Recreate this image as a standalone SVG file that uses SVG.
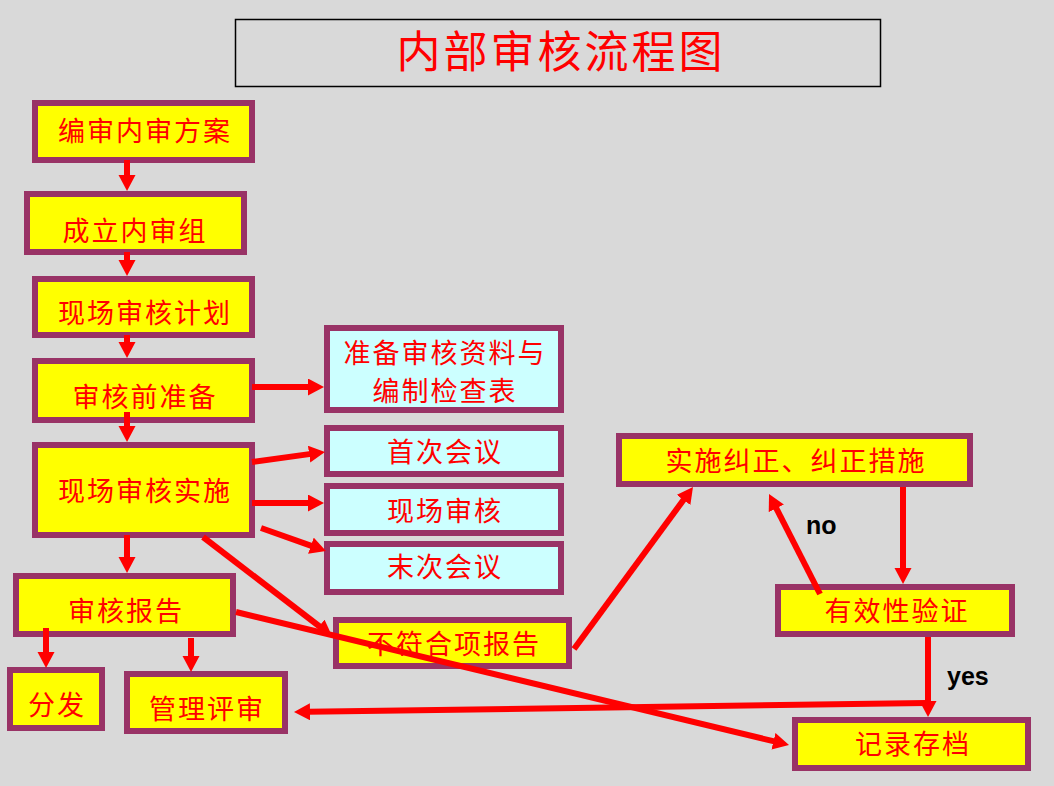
<svg xmlns="http://www.w3.org/2000/svg" width="1054" height="786" viewBox="0 0 1054 786">
<style>
.bg{fill:#d9d9d9}
.y{fill:#ffff00;stroke:#993366;stroke-width:6}
.c{fill:#ccffff;stroke:#993366;stroke-width:6}
.t{font-family:"Noto Sans CJK SC","Noto Sans CJK JP",sans-serif;font-size:27px;fill:#ff0000;text-anchor:middle;letter-spacing:2px}
.ttl{font-family:"Noto Sans CJK SC","Noto Sans CJK JP",sans-serif;font-size:44px;fill:#ff0000;text-anchor:middle;letter-spacing:3px}
.lbl{font-family:"Liberation Sans",Arial,sans-serif;font-weight:bold;font-size:25px;fill:#000}
.a{stroke:#ff0000;stroke-width:6;fill:none;marker-end:url(#ah)}
</style>
<defs>
<marker id="ah" markerUnits="userSpaceOnUse" markerWidth="18" markerHeight="18" refX="2" refY="8.5" orient="auto">
<path d="M0,0 L16,8.5 L0,17 z" fill="#ff0000"/>
</marker>
</defs>
<rect class="bg" x="0" y="0" width="1054" height="786"/>
<g id="title">
<rect x="235.5" y="19.5" width="645" height="67" fill="none" stroke="#000" stroke-width="1.5"/>
<text class="ttl" x="561" y="68">内部审核流程图</text>
</g>
<g id="n1"><rect class="y" x="35" y="103" width="217" height="57"/><text class="t" x="145" y="141">编审内审方案</text></g>
<g id="n2"><rect class="y" x="27" y="194" width="217" height="58"/><text class="t" x="135" y="241">成立内审组</text></g>
<g id="n3"><rect class="y" x="35" y="279" width="217" height="56"/><text class="t" x="145" y="323">现场审核计划</text></g>
<g id="n4"><rect class="y" x="35" y="361" width="217" height="59"/><text class="t" x="145" y="407">审核前准备</text></g>
<g id="n5"><rect class="y" x="35" y="445" width="217" height="90"/><text class="t" x="145" y="501">现场审核实施</text></g>
<g id="n6"><rect class="c" x="327" y="328" width="234" height="82"/><text class="t" x="445" y="363">准备审核资料与</text><text class="t" x="445" y="401">编制检查表</text></g>
<g id="n7"><rect class="c" x="327" y="428" width="234" height="46"/><text class="t" x="445" y="462">首次会议</text></g>
<g id="n8"><rect class="c" x="327" y="486" width="234" height="47"/><text class="t" x="445" y="521">现场审核</text></g>
<g id="n9"><rect class="c" x="327" y="544" width="234" height="48"/><text class="t" x="445" y="577">末次会议</text></g>
<g id="n10"><rect class="y" x="16" y="576" width="217" height="58"/><text class="t" x="126" y="621">审核报告</text></g>
<g id="n11"><rect class="y" x="10" y="670" width="92" height="58"/><text class="t" x="57" y="715">分发</text></g>
<g id="n12"><rect class="y" x="127" y="674" width="158" height="57"/><text class="t" x="207" y="719">管理评审</text></g>
<g id="n13"><rect class="y" x="336" y="620" width="233" height="46"/><text class="t" x="454" y="654">不符合项报告</text></g>
<g id="n14"><rect class="y" x="619" y="436" width="351" height="48"/><text class="t" x="796" y="471">实施纠正、纠正措施</text></g>
<g id="n15"><rect class="y" x="778" y="587" width="234" height="47"/><text class="t" x="897" y="621">有效性验证</text></g>
<g id="n16"><rect class="y" x="795" y="720" width="233" height="48"/><text class="t" x="913" y="754">记录存档</text></g>
<g id="connectors">
<line class="a" x1="127" y1="160" x2="127" y2="177"/>
<line class="a" x1="127" y1="252" x2="127" y2="262"/>
<line class="a" x1="127" y1="335" x2="127" y2="344"/>
<line class="a" x1="127" y1="412" x2="127" y2="428"/>
<line class="a" x1="252" y1="387" x2="310" y2="387"/>
<line class="a" x1="252" y1="462" x2="311.1" y2="453.9"/>
<line class="a" x1="252" y1="503" x2="310" y2="503"/>
<line class="a" x1="261" y1="528" x2="312.8" y2="546.3"/>
<line class="a" x1="127" y1="535" x2="127" y2="559"/>
<line class="a" x1="203" y1="537" x2="320.9" y2="627.5"/>
<line class="a" x1="46" y1="628" x2="46" y2="654"/>
<line class="a" x1="191" y1="638" x2="191" y2="658"/>
<line class="a" x1="236" y1="612" x2="775.4" y2="741.7"/>
<line class="a" x1="574" y1="649" x2="684.7" y2="498.3"/>
<line class="a" x1="903" y1="487" x2="903" y2="570"/>
<line class="a" x1="820" y1="594" x2="775.4" y2="506.5"/>
<line class="a" x1="928" y1="637" x2="928" y2="703"/>
<line class="a" x1="926" y1="703" x2="308" y2="711.8"/>
<text class="lbl" x="806" y="534">no</text>
<text class="lbl" x="947" y="685">yes</text>
</g>
</svg>
